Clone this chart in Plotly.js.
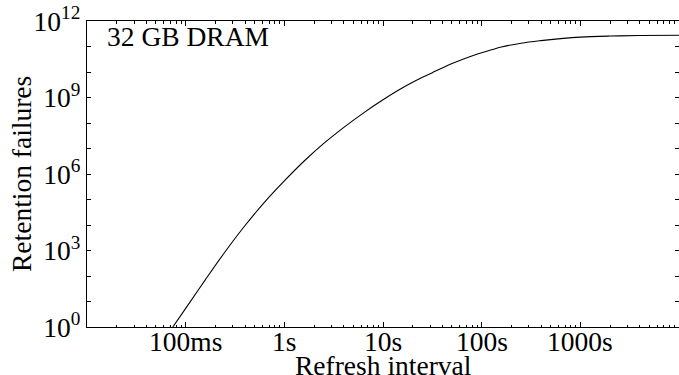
<!DOCTYPE html>
<html>
<head>
<meta charset="utf-8">
<script src="https://cdn.plot.ly/plotly-3.0.1.min.js"></script>
<style>html,body{margin:0;padding:0;background:#fff;}#chart{width:679px;height:375px;}</style>
</head>
<body>
<div id="chart"></div>
<script>
// Refresh interval (seconds)
const refreshInterval = [0.0741, 0.1, 0.158, 0.251, 0.398, 0.631, 1, 1.58, 2.51, 3.98, 6.31,
  10, 15.8, 25.1, 31.6, 50.1, 79.4, 126, 158, 251, 398, 631, 1000, 1995, 3981, 10000];
// Retention failures
const retentionFailures = [1, 5.37, 70.8, 891, 9330, 79400, 5.37e5, 3.16e6, 1.58e7, 6.61e7, 2.45e8,
  8.13e8, 2.40e9, 6.17e9, 9.44e9, 2.14e10, 4.27e10, 7.41e10, 9.55e10, 1.35e11, 1.70e11, 2.04e11,
  2.34e11, 2.57e11, 2.69e11, 2.75e11];

const xTickVals = [0.01, 0.1, 1, 10, 100, 1000];
const xTickText = ["", "100ms", "1s", "10s", "100s", "1000s"];
const yTickVals = [1,1e1,1e2,1e3,1e4,1e5,1e6,1e7,1e8,1e9,1e10,1e11,1e12];
const yTickText = ["10<sup>0</sup>","","","10<sup>3</sup>","","","10<sup>6</sup>","","","10<sup>9</sup>","","","10<sup>12</sup>"];
const xMinorVals = [];
[0.01,0.1,1,10,100,1000].forEach(d => { for (let k = 2; k <= 9; k++) xMinorVals.push(d*k); });

const xTitle = 'Refresh interval';
const yTitle = 'Retention failures';
const label = '32 GB DRAM';

const FAM = 'Liberation Serif';
const FS = 27.5;
const F = (s) => ({family: FAM, size: s, color: '#000'});

const data = [{
  x: refreshInterval, y: retentionFailures, type: 'scatter', mode: 'lines',
  line: {color: '#000', width: 1.1, shape: 'spline', smoothing: 1}, hoverinfo: 'skip'
}];

// x tick labels placed through the x scale (log axis -> annotation x in log10 units)
const xTickAnnots = xTickVals.map((v, i) => ({
  text: xTickText[i], xref: 'x', yref: 'paper', x: Math.log10(v), y: 0,
  xanchor: 'center', yanchor: 'middle', yshift: -14, showarrow: false, font: F(FS)
})).filter(a => a.text !== '');

const layout = {
  width: 679, height: 375,
  margin: {l: 87, r: 0, t: 21, b: 48, pad: 0},
  paper_bgcolor: '#fff', plot_bgcolor: '#fff',
  showlegend: false,
  font: F(FS),
  xaxis: {
    type: 'log', range: [-2, 4], autorange: false,
    tickmode: 'array', tickvals: xTickVals, ticktext: xTickText, showticklabels: false,
    ticks: 'inside', ticklen: 5, tickwidth: 1, tickcolor: '#000',
    minor: {tickmode: 'array', tickvals: xMinorVals, ticks: 'inside', ticklen: 2.5, tickwidth: 1, tickcolor: '#000', showgrid: false},
    showline: true, linecolor: '#000', linewidth: 1.2, mirror: 'ticks',
    showgrid: false, zeroline: false
  },
  yaxis: {
    type: 'log', range: [0, 12], autorange: false,
    tickmode: 'array', tickvals: yTickVals, ticktext: yTickText,
    ticks: 'inside', ticklen: 4, tickwidth: 1, tickcolor: '#000',
    showline: true, linecolor: '#000', linewidth: 1.2, mirror: 'ticks',
    showgrid: false, zeroline: false,
    tickfont: F(FS)
  },
  annotations: xTickAnnots.concat([
    {text: xTitle, xref: 'paper', yref: 'paper', x: 0.5, y: 0, xanchor: 'center', yanchor: 'middle',
     yshift: -38, showarrow: false, font: F(FS)},
    {text: yTitle, xref: 'paper', yref: 'paper', x: 0, y: 0.5, xanchor: 'center', yanchor: 'middle',
     xshift: -66, textangle: -90, showarrow: false, font: F(FS)},
    {text: label, xref: 'paper', yref: 'paper', x: 0.03, y: 0.948,
     xanchor: 'left', yanchor: 'middle', showarrow: false, font: F(FS)}
  ])
};

Plotly.newPlot('chart', data, layout, {staticPlot: true, displayModeBar: false});
</script>
</body>
</html>
